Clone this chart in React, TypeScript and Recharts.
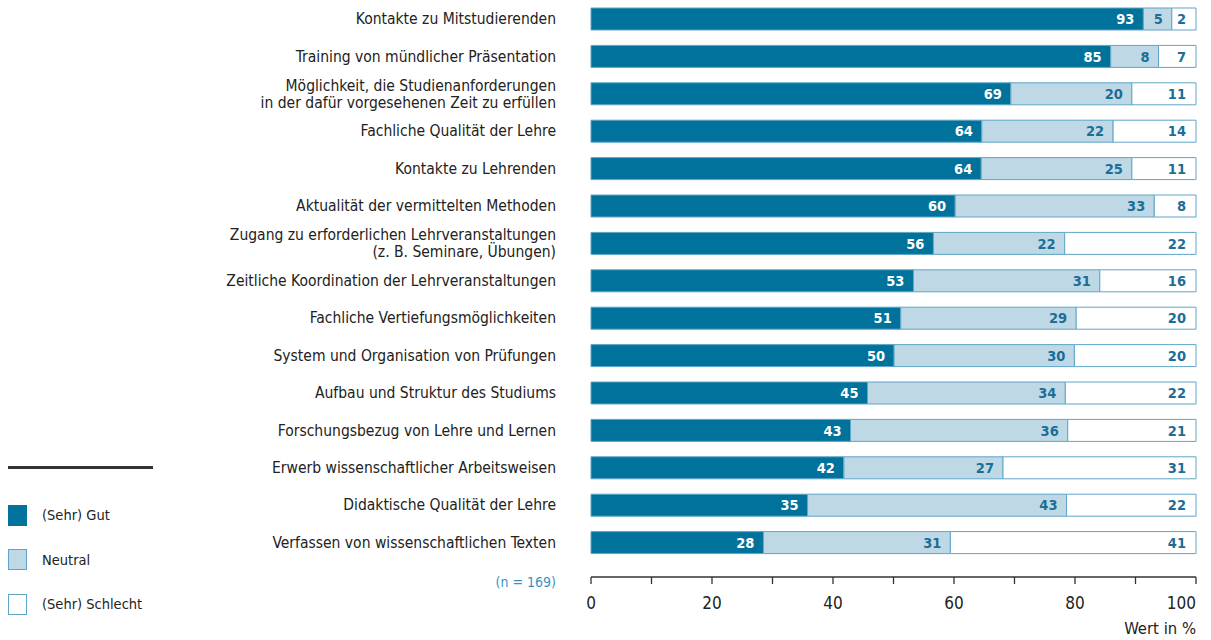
import React from "react";
import { BarChart, Bar, XAxis, YAxis, LabelList, Label } from "recharts";

const categories = [
  "Kontakte zu Mitstudierenden",
  "Training von mündlicher Präsentation",
  "Möglichkeit, die Studienanforderungen\nin der dafür vorgesehenen Zeit zu erfüllen",
  "Fachliche Qualität der Lehre",
  "Kontakte zu Lehrenden",
  "Aktualität der vermittelten Methoden",
  "Zugang zu erforderlichen Lehrveranstaltungen\n(z. B. Seminare, Übungen)",
  "Zeitliche Koordination der Lehrveranstaltungen",
  "Fachliche Vertiefungsmöglichkeiten",
  "System und Organisation von Prüfungen",
  "Aufbau und Struktur des Studiums",
  "Forschungsbezug von Lehre und Lernen",
  "Erwerb wissenschaftlicher Arbeitsweisen",
  "Didaktische Qualität der Lehre",
  "Verfassen von wissenschaftlichen Texten",
];
// printed value labels
const gutLabels = [93, 85, 69, 64, 64, 60, 56, 53, 51, 50, 45, 43, 42, 35, 28];
const neutralLabels = [5, 8, 20, 22, 25, 33, 22, 31, 29, 30, 34, 36, 27, 43, 31];
const schlechtLabels = [2, 7, 11, 14, 11, 8, 22, 16, 20, 20, 22, 21, 31, 22, 41];
// segment lengths as drawn in the picture (percent of 100)
const gutShare = [91.3, 85.9, 69.4, 64.6, 64.5, 60.2, 56.6, 53.3, 51.2, 50.1, 45.7, 42.9, 41.8, 35.8, 28.5];
const neutralShare = [4.7, 7.9, 20.0, 21.7, 24.9, 32.9, 21.7, 30.8, 29.0, 29.8, 32.7, 35.9, 26.3, 42.8, 30.9];
const schlechtShare = [4.0, 6.2, 10.6, 13.7, 10.6, 6.9, 21.7, 15.9, 19.8, 20.1, 21.6, 21.2, 31.9, 21.4, 40.6];
const xTicks = [0, 10, 20, 30, 40, 50, 60, 70, 80, 90, 100];

const data = categories.map((name, i) => ({
  name,
  gut: gutShare[i],
  neutral: neutralShare[i],
  schlecht: schlechtShare[i],
  gutLabel: gutLabels[i],
  neutralLabel: neutralLabels[i],
  schlechtLabel: schlechtLabels[i],
}));

const FONT = "'DejaVu Sans Condensed', 'Liberation Sans Narrow', 'DejaVu Sans', sans-serif";
const DARK = "#00729b";
const LIGHT = "#bfd8e6";
const BORDER = "#5ea6c8";
const LABEL_BLUE = "#1b6e96";
const TEXT = "#222";

const YTick = (props: any) => {
  const { x, y, payload } = props;
  const lines = String(payload.value).split("\n");
  const lh = 17;
  const start = -((lines.length - 1) * lh) / 2;
  return (
    <text x={x} y={y} textAnchor="end" fill={TEXT} fontSize={15.5} fontFamily={FONT}>
      {lines.map((l, i) => (
        <tspan key={i} x={x} y={y + start + i * lh} dy="0.36em">
          {l}
        </tspan>
      ))}
    </text>
  );
};

const XTick = (props: any) => {
  const { x, y, payload } = props;
  const v = payload.value as number;
  if (v % 20 !== 0) return null;
  const last = v === xTicks[xTicks.length - 1];
  return (
    <text
      x={x}
      y={y}
      dy="0.71em"
      textAnchor={last ? "end" : "middle"}
      fill={TEXT}
      fontSize={17}
      fontFamily={FONT}
    >
      {v}
    </text>
  );
};

const AxisTitle = (props: any) => {
  const vb = props.viewBox || {};
  return (
    <text
      x={vb.x + vb.width}
      y={vb.y + vb.height - 6}
      textAnchor="end"
      fill={TEXT}
      fontSize={16.5}
      fontFamily={FONT}
    >
      Wert in %
    </text>
  );
};

const legendItems = [
  { label: "(Sehr) Gut", fill: DARK, stroke: DARK },
  { label: "Neutral", fill: LIGHT, stroke: BORDER },
  { label: "(Sehr) Schlecht", fill: "#fff", stroke: BORDER },
];

export default function App() {
  return (
    <div style={{ position: "absolute", left: 0, top: 0, width: 1211, height: 640, background: "#fff", fontFamily: FONT }}>
      <BarChart
        width={1211}
        height={640}
        data={data}
        layout="vertical"
        margin={{ top: 0, right: 15, bottom: 0, left: 0 }}
        barSize={22}
      >
        <XAxis
          type="number"
          domain={[0, 100]}
          ticks={xTicks}
          interval={0}
          height={63}
          tickSize={7}
          tickMargin={13}
          axisLine={{ stroke: "#333", strokeWidth: 1.3 }}
          tickLine={{ stroke: "#333", strokeWidth: 1.3 }}
          tick={<XTick />}
        >
          <Label content={<AxisTitle />} />
        </XAxis>
        <YAxis
          type="category"
          dataKey="name"
          width={591}
          tickSize={0}
          tickMargin={35}
          axisLine={false}
          tickLine={false}
          interval={0}
          padding={{ top: 0, bottom: 16 }}
          tick={<YTick />}
        />
        <Bar dataKey="gut" stackId="a" fill={DARK} stroke={BORDER} strokeWidth={1} isAnimationActive={false}>
          <LabelList
            dataKey="gutLabel"
            position="insideRight"
            offset={9}
            style={{ fill: "#fff", fontWeight: 700, fontSize: 14.5, fontFamily: FONT }}
          />
        </Bar>
        <Bar dataKey="neutral" stackId="a" fill={LIGHT} stroke={BORDER} strokeWidth={1} isAnimationActive={false}>
          <LabelList
            dataKey="neutralLabel"
            position="insideRight"
            offset={9}
            style={{ fill: LABEL_BLUE, fontWeight: 700, fontSize: 14.5, fontFamily: FONT }}
          />
        </Bar>
        <Bar dataKey="schlecht" stackId="a" fill="#fff" stroke={BORDER} strokeWidth={1} isAnimationActive={false}>
          <LabelList
            dataKey="schlechtLabel"
            position="insideRight"
            offset={10}
            style={{ fill: LABEL_BLUE, fontWeight: 700, fontSize: 14.5, fontFamily: FONT }}
          />
        </Bar>
      </BarChart>

      <div
        style={{
          position: "absolute",
          right: 1211 - 556,
          top: 574,
          color: "#3a93bf",
          fontSize: 14,
          whiteSpace: "nowrap",
        }}
      >
        (n = 169)
      </div>

      <div style={{ position: "absolute", left: 8, top: 465.5, width: 145, height: 3, background: "#333" }} />
      {legendItems.map((it, i) => (
        <div
          key={it.label}
          style={{ position: "absolute", left: 8, top: 504 + i * 44.5, height: 22, display: "flex", alignItems: "center" }}
        >
          <div
            style={{
              width: 17,
              height: 19,
              background: it.fill,
              border: `1px solid ${it.stroke}`,
              boxSizing: "content-box",
            }}
          />
          <span style={{ marginLeft: 15, fontSize: 14.5, color: TEXT, whiteSpace: "nowrap" }}>{it.label}</span>
        </div>
      ))}
    </div>
  );
}
